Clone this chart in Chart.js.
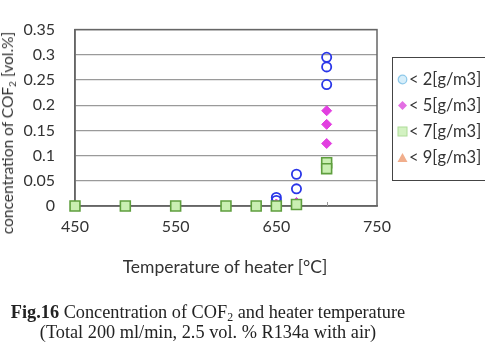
<!DOCTYPE html>
<html><head><meta charset="utf-8">
<script src="https://cdn.jsdelivr.net/npm/chart.js@4"></script>
<style>
html,body{margin:0;padding:0;background:#fff;width:485px;height:360px;overflow:hidden;position:relative;font-family:Lato,"Open Sans",sans-serif;}
#c{position:absolute;left:0;top:0;}
.abs{position:absolute;white-space:nowrap;}
#ytitle{left:7px;top:133px;transform:translate(-50%,-50%) rotate(-90deg);font-size:15.5px;color:#333;}
#xtitle{left:225px;top:266px;transform:translate(-50%,-50%);font-size:17.5px;color:#333;}
#legend{left:392px;top:57px;width:110px;height:124px;border:1.5px solid #444;box-sizing:border-box;}
.li{position:absolute;left:4px;height:20px;line-height:20px;font-size:16.5px;color:#333;}
.li svg{vertical-align:middle;margin-right:1px;position:relative;top:-1px;}
.cap{font-family:"Liberation Serif","Times New Roman",serif;font-size:18.3px;color:#222;left:0;width:416px;text-align:center;}
sub{font-size:65%;vertical-align:-0.25em;line-height:0;}
</style></head><body>
<canvas id="c" width="485" height="360"></canvas>
<div class="abs" id="ytitle">concentration of COF<sub>2</sub> [vol.%]</div>
<div class="abs" id="xtitle">Temperature of heater [°C]</div>
<div class="abs" id="legend">
  <div class="li" style="top:11px"><svg width="11" height="11"><circle cx="5.5" cy="5.5" r="4.3" fill="#d6eefa" stroke="#8ec9ea" stroke-width="1.2"/></svg>&lt; 2[g/m3]</div>
  <div class="li" style="top:37px"><svg width="11" height="11"><polygon points="5.5,1 10,5.5 5.5,10 1,5.5" fill="#e36fe3"/></svg>&lt; 5[g/m3]</div>
  <div class="li" style="top:63px"><svg width="11" height="11"><rect x="1" y="1" width="9" height="9" fill="#d3f2c2" stroke="#aedc98" stroke-width="1"/></svg>&lt; 7[g/m3]</div>
  <div class="li" style="top:89px"><svg width="11" height="11"><polygon points="5.5,1 10.5,10 0.5,10" fill="#f1ae8c"/></svg>&lt; 9[g/m3]</div>
</div>
<div class="abs cap" style="top:302px"><b>Fig.16</b> Concentration of COF<sub>2</sub> and heater temperature</div>
<div class="abs cap" style="top:322px;">(Total 200 ml/min, 2.5 vol. % R134a with air)</div>
<script>
const seriesNames = ["< 2[g/m3]", "< 5[g/m3]", "< 7[g/m3]", "< 9[g/m3]"];
const temp2 = [650, 650, 670, 670, 700, 700, 700];
const conc2 = [0.017, 0.011, 0.063, 0.034, 0.295, 0.276, 0.241];
const temp5 = [650, 670, 700, 700, 700];
const conc5 = [0.004, 0.007, 0.189, 0.162, 0.124];
const temp7 = [450, 500, 550, 600, 630, 650, 670, 700, 700];
const conc7 = [0, 0, 0, 0, 0, 0, 0.003, 0.086, 0.074];
const temp9 = [650];
const conc9 = [0];
const xTickLabels = [450, 550, 650, 750];
const yTicks = [0, 0.05, 0.1, 0.15, 0.2, 0.25, 0.3, 0.35];

const pts = (xs, ys) => xs.map((x, i) => ({x: x, y: ys[i]}));

const boxPlugin = {
  id: 'box',
  beforeDatasetsDraw(chart) {
    const a = chart.chartArea, ctx = chart.ctx;
    ctx.save();
    ctx.strokeStyle = '#666';
    ctx.lineWidth = 1.5;
    ctx.strokeRect(a.left, a.top, a.right - a.left, a.bottom - a.top);
    ctx.strokeStyle = '#999'; ctx.lineWidth = 1;
    const xs = chart.scales.x;
    for (let v = 500; v < 750; v += 50) {
      const px = Math.round(xs.getPixelForValue(v)) + 0.5;
      ctx.beginPath(); ctx.moveTo(px, a.bottom); ctx.lineTo(px, a.bottom - 4); ctx.stroke();
    }
    ctx.restore();
  }
};

new Chart(document.getElementById('c'), {
  type: 'scatter',
  data: {
    datasets: [
      {label: seriesNames[2], data: pts(temp7, conc7), order: 1, clip: false, pointStyle: 'rect', pointRadius: 7, backgroundColor: '#c9efb2', borderColor: '#5f9f3e', borderWidth: 1.6},
      {label: seriesNames[1], data: pts(temp5, conc5), order: 2, clip: false, pointStyle: 'rectRot', pointRadius: 5, backgroundColor: '#e23fe0', borderColor: '#e23fe0', borderWidth: 1},
      {label: seriesNames[0], data: pts(temp2, conc2), order: 3, clip: false, pointStyle: 'circle', pointRadius: 4.6, backgroundColor: 'rgba(255,255,255,0)', borderColor: '#2a36e8', borderWidth: 1.8},
      {label: seriesNames[3], data: pts(temp9, conc9), order: 4, clip: false, pointStyle: 'triangle', pointRadius: 5, backgroundColor: '#f0a070', borderColor: '#e08050', borderWidth: 1}
    ]
  },
  options: {
    responsive: false,
    animation: false,
    events: [],
    layout: {padding: {left: 0, top: 25, right: 108, bottom: 114}},
    plugins: {legend: {display: false}, tooltip: {enabled: false}},
    scales: {
      x: {
        type: 'linear', min: 450, max: 750,
        afterFit(s) { s.height = 40; },
        grid: {display: false, drawTicks: false},
        border: {display: true, color: '#666', width: 1.5},
        ticks: {
          stepSize: 50, padding: 11, color: '#333', maxRotation: 0, autoSkip: false,
          font: {family: 'Lato', size: 16},
          callback: (v) => xTickLabels.includes(v) ? String(v) : ''
        }
      },
      y: {
        type: 'linear', min: 0, max: 0.35,
        afterFit(s) { s.width = 75; },
        afterBuildTicks(s) { s.ticks = yTicks.map(v => ({value: v})); },
        grid: {color: '#9a9a9a', lineWidth: 1.3, drawTicks: false},
        border: {display: true, color: '#666', width: 1.5},
        ticks: {
          padding: 20, color: '#333',
          font: {family: 'Lato', size: 16},
          callback: (v) => String(Math.round(v * 100) / 100)
        }
      }
    }
  },
  plugins: [boxPlugin]
});
</script>
</body></html>
